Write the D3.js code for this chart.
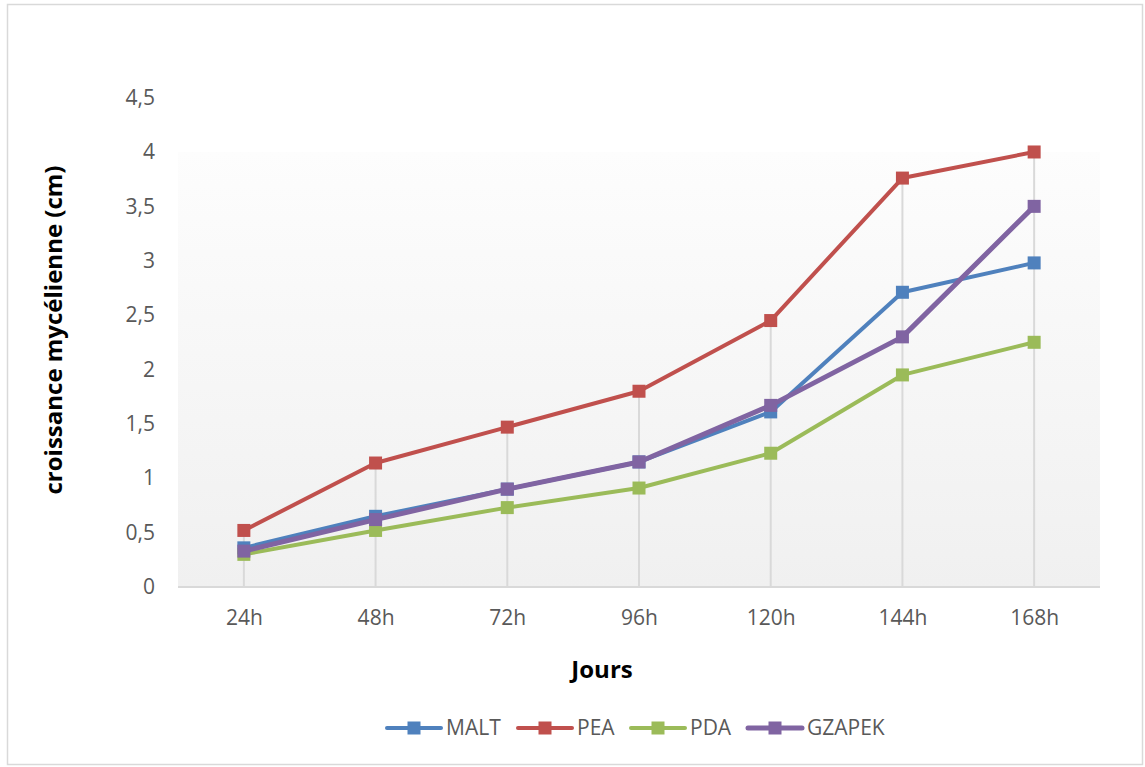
<!DOCTYPE html>
<html>
<head>
<meta charset="utf-8">
<script src="https://cdn.jsdelivr.net/npm/d3@7"></script>
<style>
  html, body { margin: 0; padding: 0; background: #fff; }
  svg { display: block; }
</style>
</head>
<body>
<svg id="chart" width="1145" height="767"></svg>
<script>
// Mycelial growth (cm) by culture medium over time
const categories = ["24h", "48h", "72h", "96h", "120h", "144h", "168h"];
const malt   = [0.36, 0.65, 0.90, 1.15, 1.61, 2.71, 2.98];
const pea    = [0.52, 1.14, 1.47, 1.80, 2.45, 3.76, 4.00];
const pda    = [0.30, 0.52, 0.73, 0.91, 1.23, 1.95, 2.25];
const gzapek = [0.33, 0.62, 0.90, 1.15, 1.67, 2.30, 3.50];
const yTicks = [0, 0.5, 1, 1.5, 2, 2.5, 3, 3.5, 4, 4.5];
const seriesNames = ["MALT", "PEA", "PDA", "GZAPEK"];
const seriesColors = ["#4f81bd", "#c0504d", "#9bbb59", "#8064a2"];

const series = [malt, pea, pda, gzapek].map((values, i) => ({
  name: seriesNames[i], color: seriesColors[i], values
}));

const svg = d3.select("#chart");
const W = 1145, H = 767;
const plot = { left: 178, right: 1100, top: 97.6, bottom: 587 };
const FONT = "'Open Sans', 'Liberation Sans', sans-serif";

// Chart border
svg.append("rect")
  .attr("x", 7.5).attr("y", 4.5).attr("width", W - 10).attr("height", H - 7)
  .attr("fill", "#fff").attr("stroke", "#d9d9d9").attr("stroke-width", 1.5);

const x = d3.scalePoint().domain(categories).range([plot.left, plot.right]).padding(0.5);
const y = d3.scaleLinear().domain([0, 4.5]).range([plot.bottom, plot.top]);

// Plot-area gradient fill
const defs = svg.append("defs");
const grad = defs.append("linearGradient").attr("id", "bg").attr("x1", 0).attr("y1", 0).attr("x2", 0).attr("y2", 1);
grad.append("stop").attr("offset", "0%").attr("stop-color", "#fdfdfd");
grad.append("stop").attr("offset", "100%").attr("stop-color", "#f0f0f0");
const dataMax = d3.max(series, s => d3.max(s.values));
svg.append("rect")
  .attr("x", plot.left).attr("y", y(dataMax))
  .attr("width", plot.right - plot.left).attr("height", y(0) - y(dataMax))
  .attr("fill", "url(#bg)");

// Drop lines from the highest point in each category
svg.append("g").selectAll("line")
  .data(categories)
  .join("line")
  .attr("x1", d => x(d)).attr("x2", d => x(d))
  .attr("y1", (d, i) => y(d3.max(series, s => s.values[i])))
  .attr("y2", y(0))
  .attr("stroke", "#d9d9d9").attr("stroke-width", 2);

// X axis
const xAxis = svg.append("g").attr("transform", `translate(0,${y(0)})`)
  .call(d3.axisBottom(x).tickSize(0).tickPadding(23));
xAxis.select(".domain").attr("d", `M${plot.left},0H${plot.right}`)
  .attr("stroke", "#d9d9d9").attr("stroke-width", 2);
xAxis.selectAll("text").attr("font-family", FONT).attr("font-size", 21).attr("fill", "#595959");

// Y axis (labels only)
const fmt = d => d3.format("~g")(d).replace(".", ",");
const yAxis = svg.append("g").attr("transform", `translate(${plot.left},0)`)
  .call(d3.axisLeft(y).tickValues(yTicks).tickFormat(fmt).tickSize(0).tickPadding(23));
yAxis.select(".domain").remove();
yAxis.selectAll("text").attr("font-family", FONT).attr("font-size", 21).attr("fill", "#595959");

// Series lines and markers
const line = d3.line().x((d, i) => x(categories[i])).y(d => y(d));
const gSeries = svg.append("g");
series.forEach(s => {
  const g = gSeries.append("g");
  g.append("path").datum(s.values)
    .attr("d", line).attr("fill", "none")
    .attr("stroke", s.color).attr("stroke-width", s.name === "GZAPEK" ? 5 : 4)
    .attr("stroke-linejoin", "round").attr("stroke-linecap", "round");
  g.selectAll("rect").data(s.values).join("rect")
    .attr("x", (d, i) => x(categories[i]) - 6.5)
    .attr("y", d => y(d) - 6.5)
    .attr("width", 13).attr("height", 13)
    .attr("fill", s.color);
});

// Axis titles
svg.append("text")
  .attr("transform", `translate(62,330) rotate(-90)`)
  .attr("text-anchor", "middle")
  .attr("font-family", FONT).attr("font-weight", "bold").attr("font-size", 24)
  .attr("fill", "#000")
  .text("croissance mycélienne (cm)");

svg.append("text")
  .attr("x", 602).attr("y", 678)
  .attr("text-anchor", "middle")
  .attr("font-family", FONT).attr("font-weight", "bold").attr("font-size", 24)
  .attr("fill", "#000")
  .text("Jours");

// Legend
const legendX = [387, 518, 631, 748];
const legend = svg.append("g").attr("transform", "translate(0,728)");
series.forEach((s, i) => {
  const g = legend.append("g").attr("transform", `translate(${legendX[i]},0)`);
  g.append("line").attr("x1", 0).attr("x2", 54).attr("y1", 0).attr("y2", 0)
    .attr("stroke", s.color).attr("stroke-width", s.name === "GZAPEK" ? 5 : 4)
    .attr("stroke-linecap", "round");
  g.append("rect").attr("x", 27 - 6.5).attr("y", -6.5).attr("width", 13).attr("height", 13)
    .attr("fill", s.color);
  g.append("text").attr("x", 59).attr("y", 0).attr("dy", "0.35em")
    .attr("font-family", FONT).attr("font-size", 21).attr("fill", "#595959")
    .text(s.name);
});
</script>
</body>
</html>
